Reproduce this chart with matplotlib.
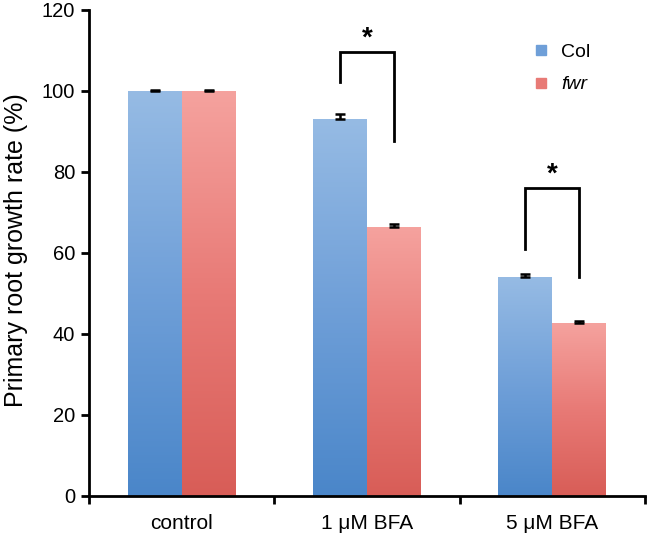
import numpy as np
import matplotlib
matplotlib.use("Agg")
import matplotlib.pyplot as plt
from matplotlib.colors import LinearSegmentedColormap
from matplotlib.lines import Line2D

categories = ["control", "1 \u03bcM BFA", "5 \u03bcM BFA"]
series = ["Col", "fwr"]
col_values = [100.0, 93.0, 54.0]
fwr_values = [100.0, 66.3, 42.7]
col_err = [0.2, 1.2, 0.7]
fwr_err = [0.2, 0.8, 0.4]
yticks = [0, 20, 40, 60, 80, 100, 120]
# significance brackets: (category index, left top, right top, bracket top)
brackets = [(1, 102.2, 87.7, 109.6), (2, 61.0, 54.1, 76.0)]

plt.rcParams['font.family'] = ['Liberation Sans', 'DejaVu Sans']

fig = plt.figure(figsize=(6.47, 5.34), dpi=100)
ax = fig.add_axes([0.1376, 0.0712, 0.859, 0.9101])

width = 0.29
x = np.arange(len(categories))
blue_cmap = LinearSegmentedColormap.from_list("b", ["#4a86c9", "#6f9fd8", "#96bbe4"])
red_cmap = LinearSegmentedColormap.from_list("r", ["#d85d57", "#e87a76", "#f5a29e"])

bars_col = ax.bar(x - width / 2, col_values, width, color="none", edgecolor="none")
bars_fwr = ax.bar(x + width / 2, fwr_values, width, color="none", edgecolor="none")
grad = np.linspace(0, 1, 256).reshape(-1, 1)
for bars, cmap in ((bars_col, blue_cmap), (bars_fwr, red_cmap)):
    for p in bars:
        x0, y0 = p.get_x(), p.get_y()
        w, h = p.get_width(), p.get_height()
        ax.imshow(grad, cmap=cmap, origin="lower", aspect="auto",
                  extent=[x0, x0 + w, y0, y0 + h], zorder=1, interpolation="bilinear")

ax.errorbar(x - width / 2, col_values, yerr=[np.zeros(3), col_err], fmt="none",
            ecolor="black", elinewidth=1.8, capsize=3.5, capthick=1.8, zorder=3)
ax.errorbar(x + width / 2, fwr_values, yerr=[np.zeros(3), fwr_err], fmt="none",
            ecolor="black", elinewidth=1.8, capsize=3.5, capthick=1.8, zorder=3)

for ci, yl, yr, yt in brackets:
    xl, xr = ci - width / 2, ci + width / 2
    ax.plot([xl, xl, xr, xr], [yl, yt, yt, yr], color="black", lw=2,
            solid_joinstyle="miter", zorder=3)
    ax.text(ci, yt + 0.2, "*", ha="center", va="bottom", fontsize=20, fontweight="bold")

ax.set_xlim(-0.5, 2.5)
ax.set_ylim(0, 120)
ax.set_yticks(yticks)
ax.set_yticklabels([str(v) for v in yticks], fontsize=14.5)
ax.set_xticks([-0.5, 0.5, 1.5, 2.5])
ax.set_xticklabels([])
ax.set_xticks(x, minor=True)
ax.set_xticklabels(categories, minor=True, fontsize=15)
ax.tick_params(axis="x", which="minor", length=0, pad=13)
ax.tick_params(axis="x", which="major", length=6, width=2, direction="out")
ax.tick_params(axis="y", length=6, width=2, direction="out", pad=4)
ax.set_ylabel("Primary root growth rate (%)", fontsize=18)
ax.yaxis.set_label_coords(-0.11, 0.506)
for s in ("top", "right"):
    ax.spines[s].set_visible(False)
for s in ("left", "bottom"):
    ax.spines[s].set_linewidth(2)

handles = [Line2D([], [], marker="s", ls="none", markersize=7.5, color="#6f9fd8"),
           Line2D([], [], marker="s", ls="none", markersize=7.5, color="#e87a76")]
leg = ax.legend(handles, series, loc="upper left", bbox_to_anchor=(0.765, 0.967),
                frameon=False, fontsize=14, handletextpad=0.5, labelspacing=0.75,
                handlelength=1.0)
leg.get_texts()[1].set_style("italic")

fig.savefig("out.png", dpi=100)
